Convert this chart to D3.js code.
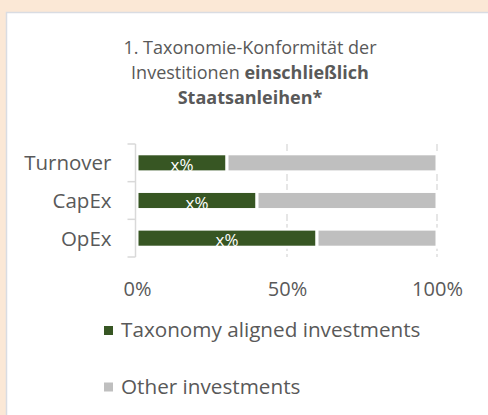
<!DOCTYPE html>
<html>
<head>
<meta charset="utf-8">
<script src="https://cdn.jsdelivr.net/npm/d3@7"></script>
<style>
  html, body { margin: 0; padding: 0; background: #FBE8D6; }
  svg { display: block; }
  text { font-family: "Open Sans", Lato, sans-serif; fill: #595959; }
</style>
</head>
<body>
<svg id="chart" width="488" height="415"></svg>
<script>
// Chart data
const categories = ["Turnover", "CapEx", "OpEx"];
const alignedValues = [30, 40, 60];   // % taxonomy aligned
const otherValues = [70, 60, 40];     // % other investments
const barLabels = ["x%", "x%", "x%"];
const xTicks = [0, 50, 100];
const seriesNames = ["Taxonomy aligned investments", "Other investments"];
const seriesColors = ["#375623", "#BFBFBF"];
const titleLines = [
  [{ t: "1. Taxonomie-Konformität der", b: false }],
  [{ t: "Investitionen ", b: false }, { t: "einschließlich", b: true }],
  [{ t: "Staatsanleihen*", b: true }]
];

const svg = d3.select("#chart");

// White panel with a thin border
svg.append("rect")
  .attr("x", 6.5).attr("y", 12.5)
  .attr("width", 500).attr("height", 420)
  .attr("fill", "#ffffff")
  .attr("stroke", "#D9DCE2").attr("stroke-width", 1.5);

// Title
const title = svg.append("text")
  .attr("text-anchor", "middle")
  .style("font-size", "18px");
titleLines.forEach((line, i) => {
  const t = title.append("tspan").attr("x", 250).attr("y", 54 + i * 25);
  line.forEach((seg, j) => {
    const s = j === 0 ? t : title.append("tspan");
    s.text(seg.t).style("font-weight", seg.b ? "bold" : "normal");
  });
});

// Scales
const x = d3.scaleLinear().domain([0, 100]).range([137, 437]);
const y = d3.scaleBand().domain(categories).range([144, 257])
  .paddingInner(0.52).paddingOuter(0.26);

// Gridlines
svg.append("g").selectAll("line")
  .data(xTicks.filter(d => d > 0))
  .join("line")
  .attr("x1", d => x(d)).attr("x2", d => x(d))
  .attr("y1", 144).attr("y2", 257)
  .attr("stroke", "#D9D9D9").attr("stroke-width", 1.3)
  .attr("stroke-dasharray", "7,3");

// Stacked bars
const rows = categories.map((c, i) => ({ c, a: alignedValues[i], o: otherValues[i], label: barLabels[i] }));
const barG = svg.append("g");
barG.selectAll("rect.aligned").data(rows).join("rect")
  .attr("class", "aligned")
  .attr("x", d => x(0)).attr("y", d => y(d.c))
  .attr("width", d => x(d.a) - x(0)).attr("height", y.bandwidth())
  .attr("fill", seriesColors[0]).attr("stroke", "#fff").attr("stroke-width", 3);
barG.selectAll("rect.other").data(rows).join("rect")
  .attr("class", "other")
  .attr("x", d => x(d.a)).attr("y", d => y(d.c))
  .attr("width", d => x(d.a + d.o) - x(d.a)).attr("height", y.bandwidth())
  .attr("fill", seriesColors[1]).attr("stroke", "#fff").attr("stroke-width", 3);

// Value labels in the aligned segment
barG.selectAll("text").data(rows).join("text")
  .attr("x", d => (x(0) + x(d.a)) / 2)
  .attr("y", d => y(d.c) + y.bandwidth() - 1)
  .attr("text-anchor", "middle")
  .style("font-size", "17px")
  .style("fill", "#ffffff")
  .text(d => d.label);

// Category axis
const axisX = x(0) - 1.5;
const yAxis = svg.append("g")
  .attr("transform", `translate(${axisX},0)`)
  .call(d3.axisLeft(y).tickSize(0).tickPadding(24));
yAxis.select(".domain").remove();
yAxis.selectAll("text").style("font-size", "20.5px").attr("dy", "0.36em");
const bounds = d3.range(categories.length + 1).map(i => y.range()[0] + i * y.step());
svg.append("line")
  .attr("x1", axisX).attr("x2", axisX)
  .attr("y1", bounds[0]).attr("y2", bounds[bounds.length - 1])
  .attr("stroke", "#D9D9D9").attr("stroke-width", 1.5);
svg.append("g").selectAll("line").data(bounds).join("line")
  .attr("x1", axisX - 8).attr("x2", axisX)
  .attr("y1", d => d).attr("y2", d => d)
  .attr("stroke", "#D9D9D9").attr("stroke-width", 1.5);

// Value axis
const xAxis = svg.append("g")
  .attr("transform", "translate(0,257)")
  .call(d3.axisBottom(x).tickValues(xTicks).tickFormat(d => d + "%").tickSize(0).tickPadding(0));
xAxis.select(".domain").remove();
xAxis.selectAll("text").style("font-size", "20px").attr("y", 39).attr("dy", 0);

// Legend
const legend = svg.append("g");
seriesNames.forEach((name, i) => {
  const ly = 337 + i * 56.5;
  legend.append("rect")
    .attr("x", 104).attr("y", ly - 11)
    .attr("width", 9).attr("height", 9)
    .attr("fill", seriesColors[i]);
  legend.append("text")
    .attr("x", 121).attr("y", ly)
    .style("font-size", "20.7px")
    .text(name);
});
</script>
</body>
</html>
